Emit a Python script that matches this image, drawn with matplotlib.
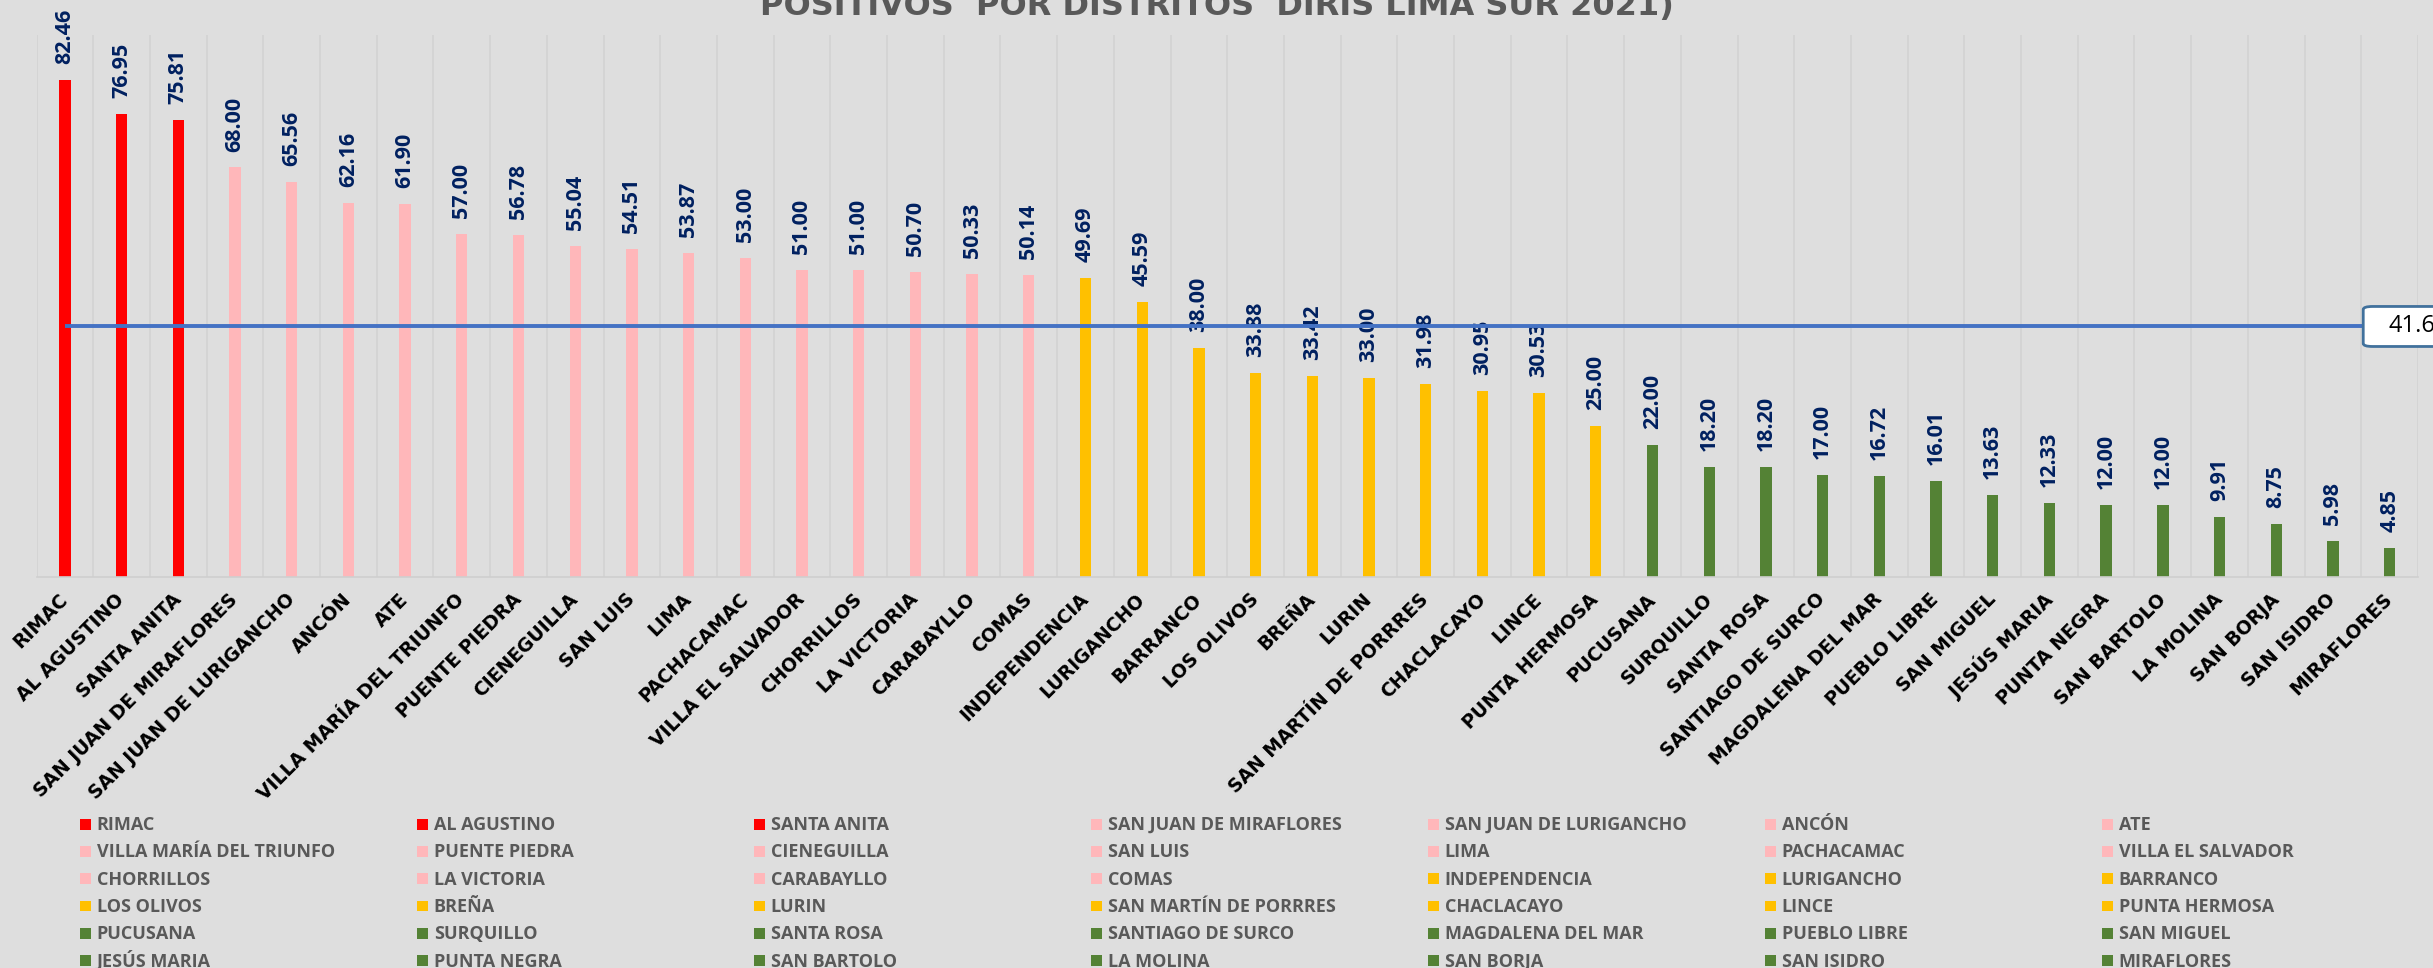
#!/usr/bin/env python3

"""Positividad por distritos, DIRIS Lima Sur 2021."""

import matplotlib
matplotlib.use('Agg')
import matplotlib.pyplot as plt
from matplotlib.patches import Rectangle
from matplotlib.legend_handler import HandlerPatch
import numpy as np

# Datos
distritos = ['RIMAC', 'AL AGUSTINO', 'SANTA ANITA', 'SAN JUAN DE MIRAFLORES',
             'SAN JUAN DE LURIGANCHO', 'ANCÓN', 'ATE', 'VILLA MARÍA DEL TRIUNFO',
             'PUENTE PIEDRA', 'CIENEGUILLA', 'SAN LUIS', 'LIMA', 'PACHACAMAC',
             'VILLA EL SALVADOR', 'CHORRILLOS', 'LA VICTORIA', 'CARABAYLLO',
             'COMAS', 'INDEPENDENCIA', 'LURIGANCHO', 'BARRANCO', 'LOS OLIVOS',
             'BREÑA', 'LURIN', 'SAN MARTÍN DE PORRRES', 'CHACLACAYO', 'LINCE',
             'PUNTA HERMOSA', 'PUCUSANA', 'SURQUILLO', 'SANTA ROSA',
             'SANTIAGO DE SURCO', 'MAGDALENA DEL MAR', 'PUEBLO LIBRE',
             'SAN MIGUEL', 'JESÚS MARIA', 'PUNTA NEGRA', 'SAN BARTOLO',
             'LA MOLINA', 'SAN BORJA', 'SAN ISIDRO', 'MIRAFLORES']

positividad = [82.46, 76.95, 75.81, 68.00, 65.56, 62.16, 61.90, 57.00, 56.78,
               55.04, 54.51, 53.87, 53.00, 51.00, 51.00, 50.70, 50.33, 50.14,
               49.69, 45.59, 38.00, 33.88, 33.42, 33.00, 31.98, 30.95, 30.53,
               25.00, 22.00, 18.20, 18.20, 17.00, 16.72, 16.01, 13.63, 12.33,
               12.00, 12.00, 9.91, 8.75, 5.98, 4.85]

promedio = 41.6

titulo = 'POSITIVOS  POR DISTRITOS  DIRIS LIMA SUR 2021)'


def color_nivel(valor):
    """Color del rango de positividad."""
    if valor >= 70:
        return '#FF0000'
    if valor >= 50:
        return '#FFB7BA'
    if valor >= 25:
        return '#FFC000'
    return '#548235'


def cuadro(legend, orig_handle, xdescent, ydescent, width, height, fontsize):
    """Cuadrito de la leyenda, centrado en su caja."""
    lado = 0.6 * fontsize
    return Rectangle((-xdescent + (width - lado) / 2,
                      -ydescent + (height - lado) / 2), lado, lado)


W, H = 2433, 968
fondo = '#DEDEDE'

fig = plt.figure(figsize=(W / 100, H / 100), dpi=100)
fig.patch.set_facecolor(fondo)

ax = fig.add_axes([36.5 / W, 1 - 577 / H, (2418 - 36.5) / W, (577 - 35) / H])
ax.set_facecolor(fondo)

x = np.arange(len(distritos))
colores = [color_nivel(v) for v in positividad]
barras = ax.bar(x, positividad, width=0.2, color=colores, zorder=2)

# Etiquetas de valor
for xi, v in zip(x, positividad):
    ax.annotate('{0:.2f}'.format(v), xy=(xi, v), xytext=(0, 11.5),
                textcoords='offset points', rotation=90, ha='center',
                va='bottom', fontsize=15.5, fontweight='bold',
                color='#002060', family='Open Sans', zorder=4)

# Linea de promedio
ax.plot([x[0], x[-1]], [promedio, promedio], color='#4472C4', lw=2.8,
        zorder=5, solid_capstyle='butt')
ax.annotate('{0}'.format(promedio), xy=(x[-1], promedio), xytext=(-1, 0),
            textcoords='offset points', ha='left', va='center', fontsize=17,
            family='Open Sans', color='black', zorder=6,
            annotation_clip=False,
            bbox=dict(boxstyle='round,pad=1.06,rounding_size=0.4',
                      mutation_aspect=0.32, fc='white', ec='#41719C', lw=2))

ax.set_xlim(-0.5, len(distritos) - 0.5)
ax.set_ylim(0, 90)

# Lineas verticales entre categorias
ax.set_xticks(np.arange(-0.5, len(distritos), 1), minor=True)
ax.grid(which='minor', axis='x', color='#D2D2D2', lw=1.2, zorder=0)
ax.tick_params(which='minor', length=0)

ax.set_xticks(x)
ax.set_xticklabels(distritos, rotation=45, ha='right', va='center',
                   rotation_mode='anchor', fontsize=13.5, fontweight='bold',
                   color='black')
ax.tick_params(axis='x', which='major', length=0, pad=14)
ax.set_yticks([])

for side in ['top', 'left', 'right']:
    ax.spines[side].set_visible(False)
ax.spines['bottom'].set_color('#CFCFCF')
ax.spines['bottom'].set_linewidth(1.2)

fig.text(0.5, 1 - 15 / H, titulo, ha='center', va='baseline', fontsize=23,
         fontweight='bold', color='#595959', family='DejaVu Sans')

# Leyenda: 7 columnas, llenado por filas
ncol = 7
for c in range(ncol):
    idx = list(range(c, len(distritos), ncol))
    fig.legend([barras[i] for i in idx], [distritos[i] for i in idx],
               loc='upper left',
               bbox_to_anchor=((80 + 337 * c) / W, 1 - 814 / H),
               frameon=False, borderpad=0, borderaxespad=0,
               handlelength=0.6, handleheight=1.35, handletextpad=0.33,
               labelspacing=0.39, labelcolor='#595959',
               handler_map={Rectangle: HandlerPatch(patch_func=cuadro)},
               prop=dict(family='Open Sans', weight='bold', size=13))

plt.savefig('out.png', dpi=100, facecolor=fondo)
